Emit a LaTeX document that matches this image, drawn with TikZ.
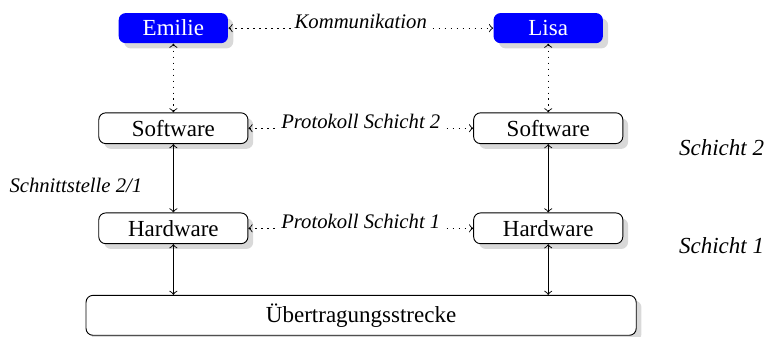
\documentclass[tikz,border=0pt]{standalone}
\usepackage{fontspec}
\setmainfont{Liberation Serif}
\usetikzlibrary{positioning, shadows}
\tikzset{
    kasten/.style={draw, rounded corners=3pt, fill=white, drop shadow={opacity=0.3},
        minimum width=2.28cm, minimum height=0.47cm, inner sep=0pt},
    person/.style={rounded corners=3pt, fill=blue, text=white, drop shadow={opacity=0.3},
        minimum width=1.67cm, minimum height=0.46cm, inner sep=0pt},
    punkte/.style={<->, dash pattern=on 0.6pt off 2pt},
    beschr/.style={midway, fill=white, anchor=base, inner sep=1pt, font=\small\itshape},
}
\begin{document}
\begin{tikzpicture}
        \useasboundingbox (0,0) rectangle (11.77,-5.14);
        % Personen
        \node[person] (emilie) at (2.65,-0.43) {Emilie};
        \node[person] (lisa) at (8.38,-0.43) {Lisa};
        % Schichten
        \node[kasten] (swL) at (2.65,-1.96) {Software};
        \node[kasten] (swR) at (8.38,-1.96) {Software};
        \node[kasten] (hwL) at (2.65,-3.49) {Hardware};
        \node[kasten] (hwR) at (8.38,-3.49) {Hardware};
        \node[kasten, minimum width=8.41cm, minimum height=0.61cm] (ueb) at (5.52,-4.82) {Übertragungsstrecke};
        % Beschriftungen
        \node[font=\small\itshape] (schnitt) at (1.16,-2.83) {Schnittstelle 2/1};
        \node[font=\itshape] (schicht2) at (11.03,-2.25) {Schicht 2};
        \node[font=\itshape] (schicht1) at (11.03,-3.76) {Schicht 1};
        % Kommunikation
        \draw[punkte] (emilie) -- (lisa) node[beschr] {Kommunikation};
        \draw[punkte] (swL) -- (swR) node[beschr] {Protokoll Schicht 2};
        \draw[punkte] (hwL) -- (hwR) node[beschr] {Protokoll Schicht 1};
        \draw[punkte] (emilie) -- (swL);
        \draw[punkte] (lisa) -- (swR);
        % Schnittstellen
        \draw[<->] (swL) -- (hwL);
        \draw[<->] (swR) -- (hwR);
        \draw[<->] (hwL.south) -- (hwL.south |- ueb.north);
        \draw[<->] (hwR.south) -- (hwR.south |- ueb.north);
    \end{tikzpicture}
\end{document}
